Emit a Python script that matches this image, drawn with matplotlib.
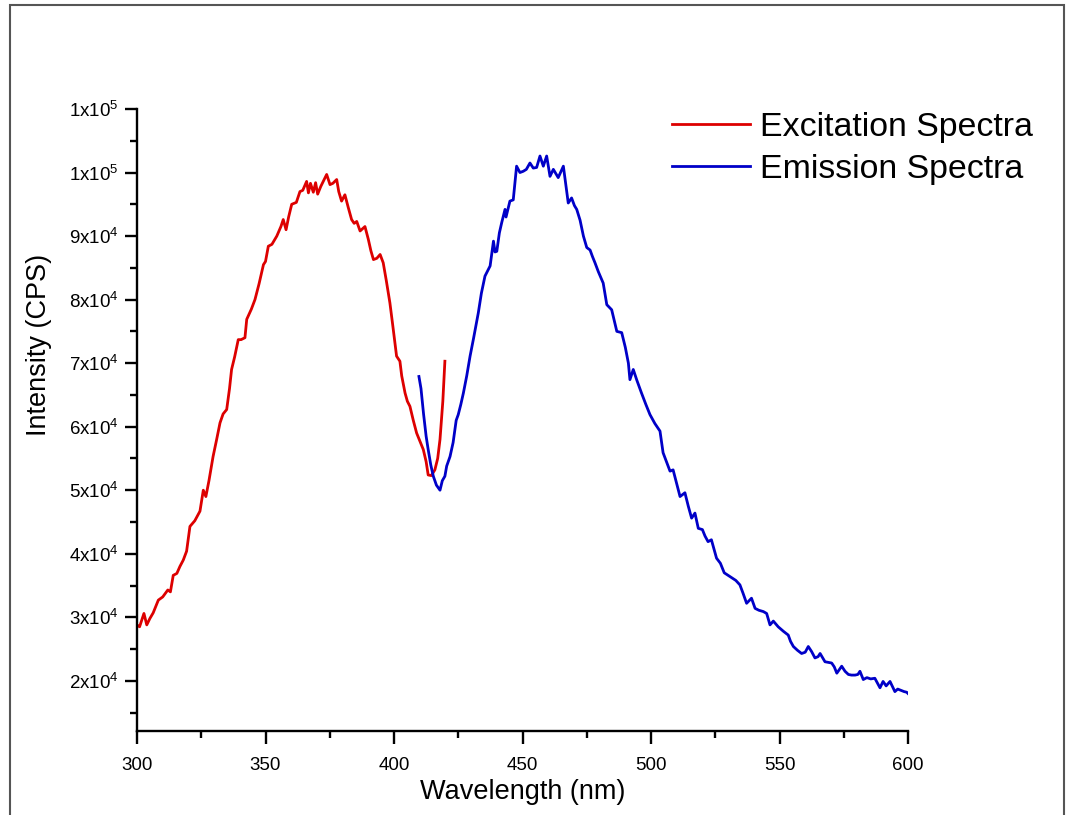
import matplotlib
matplotlib.use('Agg')
import matplotlib.pyplot as plt
from matplotlib.ticker import MultipleLocator, FuncFormatter
from matplotlib.patches import Rectangle
import math

plt.rcParams['font.family'] = ['Liberation Sans', 'DejaVu Sans']
plt.rcParams['mathtext.fontset'] = 'custom'
plt.rcParams['mathtext.rm'] = 'Liberation Sans'

# Excitation spectrum (nm, CPS)
exc_wl = [300, 301, 302.7, 303.8, 305, 306.3, 308.3, 310, 312, 313, 314.1, 315.5,
          316.7, 318, 319.3, 320.6, 322.5, 324.5, 325.8, 326.8, 328, 329.6, 331,
          332.3, 333.5, 334.9, 336, 336.8, 338, 339.4, 340.5, 342, 342.7, 344.5,
          345.9, 347.5, 349.2, 350, 351.1, 352.5, 354.4, 356, 356.9, 358, 359,
          360.2, 362, 363.4, 364.5, 366, 366.7, 367.5, 368.6, 369.5, 370.3, 371.5,
          373.8, 375.1, 376.2, 377.7, 378.5, 379.6, 380.9, 382.2, 383.5, 384.5,
          385.5, 386.8, 388.7, 390, 391, 392, 393.3, 394.6, 395.8, 397, 398.4,
          399.5, 401, 402.3, 403, 404.3, 405.2, 406.2, 407.5, 408.8, 410, 411.4,
          412.5, 413.3, 414.5, 415.9, 417, 417.9, 419, 419.8]
exc_int = [28800, 28500, 30600, 28800, 29800, 30700, 32700, 33200, 34300, 34000, 36600, 36900,
           38000, 39000, 40400, 44300, 45200, 46700, 50000, 49000, 51500, 55300, 58000,
           60600, 62000, 62700, 66000, 69000, 71000, 73700, 73700, 74000, 76900, 78500,
           80000, 82500, 85500, 86000, 88400, 88700, 90000, 91500, 92600, 91000, 93000,
           95000, 95300, 97000, 97200, 98600, 96800, 98300, 96900, 98400, 96600, 97800,
           99700, 98100, 98300, 98900, 97000, 95500, 96500, 94500, 92600, 92000,
           92300, 90800, 91500, 89500, 87700, 86300, 86500, 87100, 85800, 83000, 79500,
           76000, 71100, 70300, 68000, 65300, 64000, 63200, 61000, 59000, 57800, 56400,
           54500, 52400, 52300, 53200, 55000, 58000, 64000, 70300]

# Emission spectrum (nm, CPS)
emi_wl = [409.7, 410.5, 411.5, 412.5, 413.3, 414.3, 415.3, 416.5, 417.9, 418.8, 419.8,
          420.5, 421.8, 423, 424.2, 425, 426, 427, 428.3, 429.6, 431, 432.8, 434,
          435.4, 436.4, 437.4, 438.7, 439.3, 440, 441, 441.9, 443.2, 443.6, 445.1,
          446.4, 447.7, 449, 450.3, 451.5, 452.9, 454.2, 455.5, 456.8, 458.1, 459.4,
          460.7, 462, 463.9, 465.9, 467.8, 469.1, 470.2, 471.1, 472.4, 473.7, 475,
          476.3, 477.2, 478.2, 479.5, 481.4, 482.8, 484.7, 486.7, 488.6, 490, 491.2,
          491.8, 493.1, 494.5, 496.3, 498, 499.6, 501.5, 503.5, 504.7, 506, 507.4,
          508.6, 510, 511.3, 513.2, 514.5, 515.8, 517.1, 518.4, 520, 521, 522.2,
          523.5, 525.5, 527, 528.5, 530, 531.5, 533, 534.6, 535.8, 537.2, 539.1,
          540.5, 542, 543.7, 545, 546.3, 547.6, 549.5, 551.5, 553.4, 554.3, 555.4,
          557, 558.6, 560, 561.2, 562.5, 563.8, 565, 565.8, 567.7, 569, 570.3,
          571.3, 572.3, 574.2, 575.5, 576.8, 578, 579.4, 580.5, 581.3, 582.6, 584,
          585.5, 587.1, 589.1, 590.3, 591.5, 593, 594.9, 596, 597.3, 598.5, 599.5, 600]
emi_int = [67900, 66000, 62000, 58500, 56400, 54000, 52200, 50800, 50000, 51500, 52200,
           53800, 55300, 57500, 61000, 61900, 63500, 65300, 68000, 71100, 74000, 77900, 81000,
           83700, 84500, 85300, 89200, 87500, 87600, 90500, 92100, 94200, 93000, 95500,
           95700, 101000, 100000, 100200, 100500, 101500, 100700, 100800, 102600, 101000, 102600,
           99400, 100500, 99200, 101000, 95200, 96000, 94800, 94200, 92500, 90000, 88200,
           87800, 86800, 85800, 84400, 82600, 79200, 78400, 75000, 74800, 72500, 70000,
           67400, 69000, 67300, 65300, 63500, 61900, 60500, 59300, 55900, 54500, 53000,
           53200, 51000, 49000, 49600, 47500, 45600, 46400, 44000, 43800, 42800, 41900,
           42200, 39300, 38500, 37000, 36600, 36200, 35800, 35100, 33800, 32200, 33000,
           31400, 31100, 30900, 30600, 28800, 29400, 28500, 27800, 27200, 26200, 25400,
           24800, 24300, 24500, 25400, 24600, 23600, 23800, 24300, 23000, 22900, 22800,
           22200, 21200, 22300, 21500, 21000, 20900, 20900, 21000, 21500, 20200, 20500,
           20300, 20400, 18900, 19900, 19200, 19900, 18300, 18700, 18500, 18300, 18200, 18000]


def sci_label(v, pos):
    # Origin-style "1x10^5" labels (mantissa rounded to integer)
    if v <= 0:
        return '0'
    e = int(math.floor(math.log10(v) + 1e-9))
    m = int(round(v / 10 ** e))
    return r'$\mathregular{%dx10^{%d}}$' % (m, e)


fig = plt.figure(figsize=(10.68, 8.15), dpi=100)
ax = fig.add_axes([137 / 1068, 1 - 731 / 815, 771 / 1068, 622 / 815])

ax.plot(exc_wl, exc_int, color='#dd0000', lw=2, label='Excitation Spectra')
ax.plot(emi_wl, emi_int, color='#0000c8', lw=2, label='Emission Spectra')

ax.set_xlim(300, 600)
ax.set_ylim(12100, 110000)

for s in ['top', 'right']:
    ax.spines[s].set_visible(False)
for s in ['left', 'bottom']:
    ax.spines[s].set_linewidth(1.7)

ax.xaxis.set_major_locator(MultipleLocator(50))
ax.xaxis.set_minor_locator(MultipleLocator(25))
ax.yaxis.set_major_locator(MultipleLocator(10000))
ax.yaxis.set_minor_locator(MultipleLocator(5000))
ax.yaxis.set_major_formatter(FuncFormatter(sci_label))

ax.tick_params(which='major', direction='out', length=9, width=1.7, labelsize=13.5)
ax.tick_params(which='minor', direction='out', length=5, width=1.7)
ax.tick_params(axis='x', which='major', pad=10)
ax.tick_params(axis='y', which='major', pad=4)

ax.set_xlabel('Wavelength (nm)', fontsize=19.5, labelpad=3)
ax.set_ylabel('Intensity (CPS)', fontsize=19.5)
ax.yaxis.set_label_coords(-0.11, 0.62)

leg = ax.legend(loc='upper left', bbox_to_anchor=(672 / 1068, 1 - 112 / 815),
                bbox_transform=fig.transFigure, frameon=False, fontsize=24.4,
                handlelength=2.3, handletextpad=0.3, labelspacing=0.33,
                borderaxespad=0, borderpad=0)
for line in leg.get_lines():
    line.set_linewidth(2)

# outer frame
fig.add_artist(Rectangle((10 / 1068, -0.01), 1054 / 1068, 1 - 5 / 815 + 0.01,
                         transform=fig.transFigure, fill=False,
                         edgecolor='#555555', lw=1.5))

fig.savefig('out.png', dpi=100)
